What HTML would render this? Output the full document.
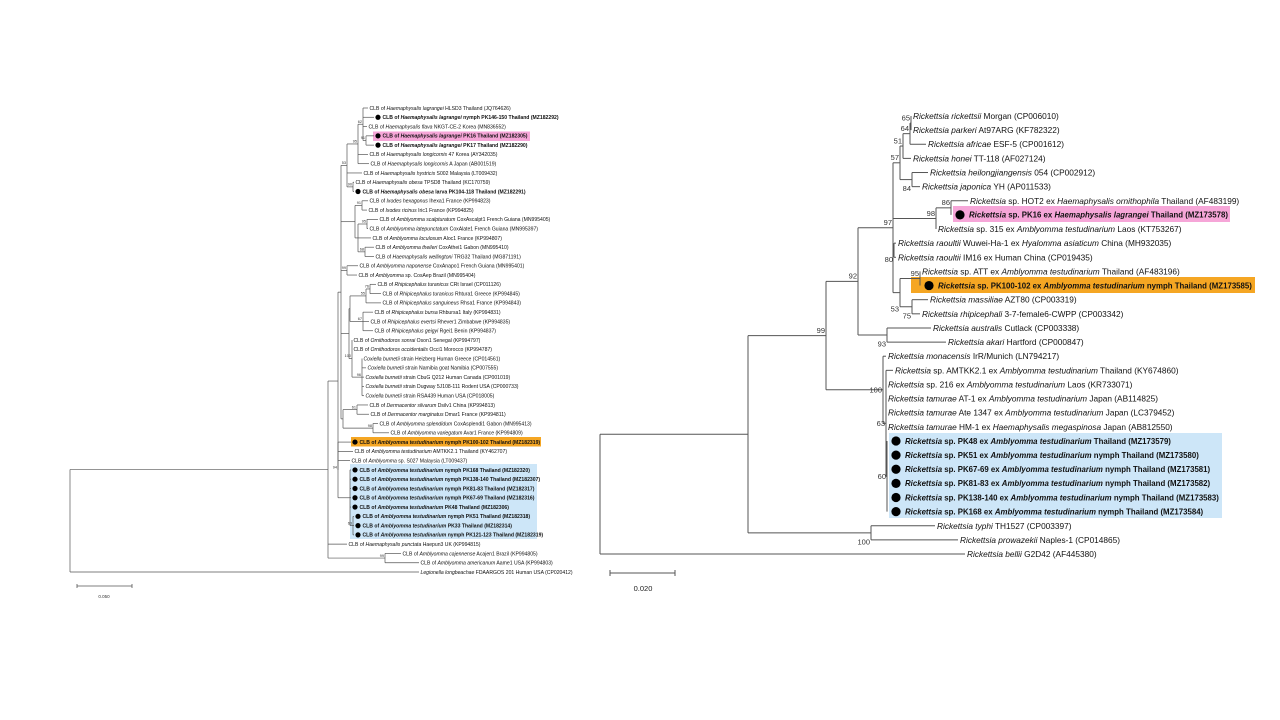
<!DOCTYPE html>
<html><head><meta charset="utf-8"><style>
html,body{margin:0;padding:0;background:#fff;}
svg{display:block;font-family:"Liberation Sans",sans-serif;}
</style></head><body>
<svg id="fig" width="1280" height="720" viewBox="0 0 1280 720" xmlns="http://www.w3.org/2000/svg">
<rect x="0" y="0" width="1280" height="720" fill="#fff"/>
<rect x="373" y="131.5" width="157" height="9.5" fill="#f6a6d8"/>
<rect x="351" y="437" width="190" height="9.5" fill="#f5a623"/>
<rect x="350" y="464" width="187" height="75" fill="#cde6f8"/>
<rect x="953" y="206" width="277" height="16" fill="#f6a6d8"/>
<rect x="911" y="277" width="344" height="16" fill="#f5a623"/>
<rect x="889" y="433" width="333" height="85" fill="#cde6f8"/>
<g id="left"></g>
<g id="right"></g>
<g stroke="#555" stroke-width="0.8">
<line x1="77" y1="586" x2="132" y2="586"/><line x1="77" y1="584" x2="77" y2="588"/><line x1="132" y1="584" x2="132" y2="588"/>
</g>
<text x="104" y="598" font-size="4.5" text-anchor="middle" fill="#333">0.050</text>
<g stroke="#555" stroke-width="1">
<line x1="610" y1="573" x2="675" y2="573"/><line x1="610" y1="570" x2="610" y2="576"/><line x1="675" y1="570" x2="675" y2="576"/>
</g>
<text x="643" y="591" font-size="7.5" text-anchor="middle" fill="#222">0.020</text>
</svg>
<script>
const NS='http://www.w3.org/2000/svg';
function N(x,bs,...c){return {x:x,bs:bs,c:c};}
function L(t,e,d){return {t:t,e:e,d:!!d};}
const g='*Amblyomma testudinarium*';
const rightTree=N(600,'',
 N(748,'',
  N(826,'99',
   N(858,'92',
    N(893,'97',
     N(900,'57',
      N(903,'51',
       N(910,'64',
        N(911,'65',L('*Rickettsia rickettsii* Morgan (CP006010)',911),L('*Rickettsia parkeri* At97ARG (KF782322)',911)),
        L('*Rickettsia africae* ESF-5 (CP001612)',926)),
       L('*Rickettsia honei* TT-118 (AF027124)',911)),
      N(912,'84b',L('*Rickettsia heilongjiangensis* 054 (CP002912)',928),L('*Rickettsia japonica* YH (AP011533)',920))),
     N(936,'98',
      N(951,'86',L('*Rickettsia* sp. HOT2 ex *Haemaphysalis ornithophila* Thailand (AF483199)',968),L('*Rickettsia* sp. PK16 ex *Haemaphysalis lagrangei* Thailand (MZ173578)',951,1)),
      L('*Rickettsia* sp. 315 ex '+g+' Laos (KT753267)',936)),
     N(894,'80b',L('*Rickettsia raoultii* Wuwei-Ha-1 ex *Hyalomma asiaticum* China (MH932035)',896),L('*Rickettsia raoultii* IM16 ex Human China (CP019435)',896)),
     N(900,'53b',
      N(920,'95',L('*Rickettsia* sp. ATT ex '+g+' Thailand (AF483196)',920),L('*Rickettsia* sp. PK100-102 ex '+g+' nymph Thailand (MZ173585)',920,1)),
      N(912,'75b',L('*Rickettsia massiliae* AZT80 (CP003319)',928),L('*Rickettsia rhipicephali* 3-7-female6-CWPP (CP003342)',920)))),
    N(887,'93b',L('*Rickettsia australis* Cutlack (CP003338)',931),L('*Rickettsia akari* Hartford (CP000847)',946))),
   N(883,'100m',L('*Rickettsia monacensis* IrR/Munich (LN794217)',886),
    N(886,'63m',L('*Rickettsia* sp. AMTKK2.1 ex '+g+' Thailand (KY674860)',893),
     L('*Rickettsia* sp. 216 ex '+g+' Laos (KR733071)',886),
     L('*Rickettsia tamurae* AT-1 ex '+g+' Japan (AB114825)',886),
     L('*Rickettsia tamurae* Ate 1347 ex '+g+' Japan (LC379452)',886),
     L('*Rickettsia tamurae* HM-1 ex *Haemaphysalis megaspinosa* Japan (AB812550)',886),
     N(887,'60m',
      L('*Rickettsia* sp. PK48 ex '+g+' Thailand (MZ173579)',887,1),
      L('*Rickettsia* sp. PK51 ex '+g+' nymph Thailand (MZ173580)',887,1),
      L('*Rickettsia* sp. PK67-69 ex '+g+' nymph Thailand (MZ173581)',887,1),
      L('*Rickettsia* sp. PK81-83 ex '+g+' nymph Thailand (MZ173582)',887,1),
      L('*Rickettsia* sp. PK138-140 ex '+g+' nymph Thailand (MZ173583)',887,1),
      L('*Rickettsia* sp. PK168 ex '+g+' nymph Thailand (MZ173584)',887,1))))),
  N(871,'100b',L('*Rickettsia typhi* TH1527 (CP003397)',935),L('*Rickettsia prowazekii* Naples-1 (CP014865)',958))),
 L('*Rickettsia bellii* G2D42 (AF445380)',965));

const C='CLB of ';
const leftTree=N(70,'',
 N(328,'',
  N(338,'',
   N(341,'',
    N(347,'53',
     N(358,'95',
      N(363,'62',L(C+'*Haemaphysalis lagrangei* HLSD3 Thailand (JQ764626)',368),L(C+'*Haemaphysalis lagrangei* nymph PK146-150 Thailand (MZ182292)',374,1),L(C+'*Haemaphysalis flava* NKGT-CE-2 Korea (MN836552)',367),
       N(366,'91',L(C+'*Haemaphysalis lagrangei* PK16 Thailand (MZ182305)',374,1),L(C+'*Haemaphysalis lagrangei* PK17 Thailand (MZ182290)',374,1))),
      L(C+'*Haemaphysalis longicornis* 47 Korea (AY342035)',368),L(C+'*Haemaphysalis longicornis* A Japan (AB001519)',369)),
     L(C+'*Haemaphysalis hystricis* S002 Malaysia (LT009432)',362),
     N(353,'90',L(C+'*Haemaphysalis obesa* TPSD8 Thailand (KC170759)',354),L(C+'*Haemaphysalis obesa* larva PK104-118 Thailand (MZ182291)',354,1))),
    N(355,'',
     N(362,'91',L(C+'*Ixodes hexagonus* Ihexa1 France (KP994823)',368),L(C+'*Ixodes ricinus* Iric1 France (KP994825)',367)),
     N(358,'',
      N(367,'95',L(C+'*Amblyomma scalpturatum* CoxAscalpt1 French Guiana (MN995405)',378),L(C+'*Amblyomma latepunctatum* CoxAlate1 French Guiana (MN995397)',368)),
      L(C+'*Amblyomma loculosum* Aloc1 France (KP994807)',371),
      N(365,'68',L(C+'*Amblyomma theileri* CoxAthei1 Gabon (MN995410)',374),L(C+'*Haemaphysalis wellingtoni* TRG32 Thailand (MG871191)',374)))),
    N(347,'99',L(C+'*Amblyomma naponense* CoxAnapo1 French Guiana (MN995401)',358),L(C+'*Amblyomma* sp. CosAep Brazil (MN995404)',357)),
    N(349,'',
     N(350,'',
      N(366,'55',N(370,'76',L(C+'*Rhipicephalus turanicus* CRt Israel (CP011126)',376),L(C+'*Rhipicephalus turanicus* Rhtura1 Greece (KP994845)',381)),L(C+'*Rhipicephalus sanguineus* Rhsa1 France (KP994843)',381)),
      N(363,'67',L(C+'*Rhipicephalus bursa* Rhbursa1 Italy (KP994831)',373),L(C+'*Rhipicephalus evertsi* Rhever1 Zimbabwe (KP994835)',369),L(C+'*Rhipicephalus geigyi* Rgei1 Benin (KP994837)',373))),
     N(352,'100',L(C+'*Ornithodoros sonrai* Oson1 Senegal (KP994797)',352),L(C+'*Ornithodoros occidentalis* Occi1 Morocco (KP994787)',352),
      N(362,'96',L('*Coxiella burnetii* strain Heizberg Human Greece (CP014561)',362),L('*Coxiella burnetii* strain Namibia goat Namibia (CP007555)',366),L('*Coxiella burnetii* strain CbuG Q212 Human Canada (CP001019)',364),L('*Coxiella burnetii* strain Dugway 5J108-111 Rodent USA (CP000733)',364),L('*Coxiella burnetii* strain RSA439 Human USA (CP018005)',364)))),
    N(343,'',
     N(357,'61',L(C+'*Dermacentor silvarum* Dsilv1 China (KP994813)',368),L(C+'*Dermacentor marginatus* Dmar1 France (KP994811)',369)),
     N(373,'98',L(C+'*Amblyomma splendidum* CoxAsplendi1 Gabon (MN995413)',378),L(C+'*Amblyomma variegatum* Avar1 France (KP994809)',389)))),
   N(338,'94',
    L(C+'*Amblyomma testudinarium* nymph PK100-102 Thailand (MZ182319)',351,1),
    L(C+'*Amblyomma testudinarium* AMTKK2.1 Thailand (KY462707)',353),
    L(C+'*Amblyomma* sp. S027 Malaysia (LT009437)',350),
    N(350,'',
     L(C+'*Amblyomma testudinarium* nymph PK168 Thailand (MZ182320)',351,1),
     L(C+'*Amblyomma testudinarium* nymph PK138-140 Thailand (MZ182307)',351,1),
     L(C+'*Amblyomma testudinarium* nymph PK81-83 Thailand (MZ182317)',351,1),
     L(C+'*Amblyomma testudinarium* nymph PK67-69 Thailand (MZ182316)',351,1),
     L(C+'*Amblyomma testudinarium* PK48 Thailand (MZ182306)',351,1),
     N(353,'63',
      L(C+'*Amblyomma testudinarium* nymph PK51 Thailand (MZ182318)',354,1),
      L(C+'*Amblyomma testudinarium* PK33 Thailand (MZ182314)',354,1),
      L(C+'*Amblyomma testudinarium* nymph PK121-123 Thailand (MZ182319)',354,1))))),
  L(C+'*Haemaphysalis punctata* Haepun3 UK (KP994815)',347),
  N(385,'99',L(C+'*Amblyomma cajennense* Acajen1 Brazil (KP994805)',401),L(C+'*Amblyomma americanum* Aame1 USA (KP994803)',419))),
 L('*Legionella longbeachae* FDAARGOS 201 Human USA (CP020412)',419));

function slug(s){return s.replace(/\*/g,'').toLowerCase().replace(/[^a-z0-9]+/g,'-').replace(/^-|-$/g,'').slice(0,48);}
function draw(root,gid,cfg){
  const G=document.getElementById(gid);
  let idx=0;
  function line(x1,y1,x2,y2){
    const l=document.createElementNS(NS,'line');
    l.setAttribute('x1',x1);l.setAttribute('y1',y1);l.setAttribute('x2',x2);l.setAttribute('y2',y2);
    l.setAttribute('stroke','#555');l.setAttribute('stroke-width',cfg.sw);
    
    
    G.appendChild(l);
  }
  function layout(n){
    if(n.t!==undefined){n.y=cfg.y0+idx*cfg.dy;idx++;return n.y;}
    const ys=n.c.map(layout);
    n.y0=ys[0];n.y1=ys[ys.length-1];n.y=(n.y0+n.y1)/2;return n.y;
  }
  function render(n){
    if(n.t!==undefined){
      let tx=n.e+cfg.gap;
      const fs=n.d?cfg.bfsz:cfg.fs;
      if(n.d){
        const c=document.createElementNS(NS,'circle');
        c.setAttribute('cx',n.e+cfg.dotOff);c.setAttribute('cy',n.y);c.setAttribute('r',cfg.r);c.setAttribute('fill','#000');
        
        
        G.appendChild(c);
        tx=n.e+cfg.dotText;
      }
      const t=document.createElementNS(NS,'text');
      t.setAttribute('x',tx);t.setAttribute('y',n.y+fs*0.36);t.setAttribute('font-size',fs);
      t.setAttribute('fill','#111');
      if(n.d)t.setAttribute('font-weight','bold');
      
      
      n.t.split('*').forEach((p,i)=>{if(!p)return;const s=document.createElementNS(NS,'tspan');if(i%2)s.setAttribute('font-style','italic');s.textContent=p;t.appendChild(s);});
      G.appendChild(t);
      return;
    }
    line(n.x,n.y0,n.x,n.y1);
    n.c.forEach(ch=>{const ex=ch.t!==undefined?ch.e:ch.x;line(n.x,ch.y,ex,ch.y);render(ch);});
    if(n.bs){
      const pos=n.bs.replace(/[0-9]/g,'')||'a';const v=n.bs.replace(/[a-z]/g,'');
      const t=document.createElementNS(NS,'text');
      let y=pos==='a'?n.y-cfg.bfs*0.35:pos==='b'?n.y1+cfg.bfs*0.6:n.y+cfg.bfs*0.35;
      t.setAttribute('x',n.x-1);t.setAttribute('y',y);t.setAttribute('font-size',cfg.bfs);t.setAttribute('text-anchor','end');t.setAttribute('fill','#333');
      
      
      t.textContent=v;G.appendChild(t);
    }
  }
  layout(root);render(root);
}
draw(rightTree,'right',{y0:116,dy:14.13,sw:1,fs:8.3,bfsz:7.85,bfs:7.5,gap:2,r:4.6,dotOff:9,dotText:18});
draw(leftTree,'left',{y0:108,dy:9.28,sw:0.7,fs:5.1,bfsz:5.1,bfs:3.8,gap:1.5,r:2.6,dotOff:4,dotText:8.5});
</script>
</body></html>
